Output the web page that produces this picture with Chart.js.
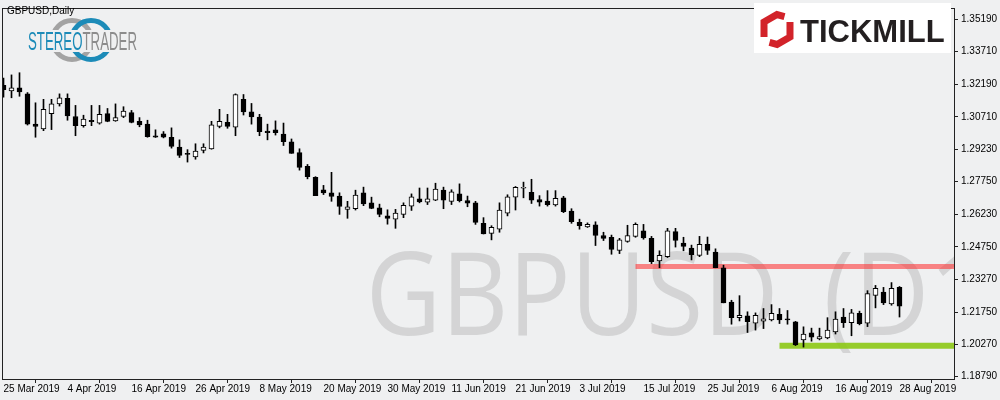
<!DOCTYPE html>
<html>
  <head>
    <title>GBPUSD Daily</title>
    <script src="https://cdn.jsdelivr.net/npm/chart.js"></script>
    <style>
      body { margin: 0; background: #eff0f1; }
      canvas { display: block; }
    </style>
  </head>
  <body>
    <canvas id="candles" width="1000" height="400"></canvas>
    <script>
      // daily bars, 25 Mar 2019 .. 28 Aug 2019 (one value per bar)
      var opens = [
        1.3216, 1.3191, 1.3205, 1.3177, 1.3038, 1.3016, 1.3086, 1.3131, 1.3156, 1.3073,
        1.3031, 1.3056, 1.3042, 1.3086, 1.3053, 1.3073, 1.3091, 1.3051, 1.3038, 1.2984,
        1.2994, 1.2978, 1.2933, 1.2900, 1.2888, 1.2918, 1.2924, 1.3028, 1.3046, 1.3024,
        1.3152, 1.3095, 1.3070, 1.3006, 1.3012, 1.2993, 1.2957, 1.2907, 1.2844, 1.2794,
        1.2737, 1.2723, 1.2708, 1.2647, 1.2650, 1.2723, 1.2677, 1.2654, 1.2617, 1.2602,
        1.2624, 1.2662, 1.2695, 1.2680, 1.2689, 1.2736, 1.2684, 1.2718, 1.2687, 1.2677,
        1.2583, 1.2537, 1.2556, 1.2629, 1.2703, 1.2744, 1.2725, 1.2692, 1.2685, 1.2667,
        1.2700, 1.2639, 1.2587, 1.2567, 1.2576, 1.2527, 1.2519, 1.2459, 1.2500, 1.2523,
        1.2549, 1.2514, 1.2410, 1.2430, 1.2545, 1.2492, 1.2469, 1.2436, 1.2486, 1.2451,
        1.2379, 1.2221, 1.2150, 1.2158, 1.2125, 1.2134, 1.2140, 1.2165, 1.2141, 1.2131,
        1.2048, 1.2080, 1.2053, 1.2057, 1.2085, 1.2153, 1.2127, 1.2170, 1.2125, 1.2252,
        1.2267, 1.2213, 1.2289
      ];
      var highs = [
        1.3249, 1.3264, 1.3274, 1.3183, 1.3136, 1.3152, 1.3152, 1.3177, 1.3177, 1.3124,
        1.3079, 1.3124, 1.3124, 1.3110, 1.3131, 1.3118, 1.3101, 1.3068, 1.3056, 1.3012,
        1.3004, 1.3021, 1.2966, 1.2921, 1.2948, 1.2948, 1.3051, 1.3106, 1.3083, 1.3177,
        1.3174, 1.3133, 1.3083, 1.3038, 1.3053, 1.3043, 1.2970, 1.2925, 1.2853, 1.2797,
        1.2757, 1.2817, 1.2723, 1.2684, 1.2735, 1.2749, 1.2703, 1.2671, 1.2645, 1.2647,
        1.2677, 1.2718, 1.2745, 1.2745, 1.2767, 1.2749, 1.2737, 1.2764, 1.2708, 1.2684,
        1.2609, 1.2572, 1.2677, 1.2714, 1.2752, 1.2772, 1.2785, 1.2710, 1.2733, 1.2733,
        1.2707, 1.2650, 1.2602, 1.2585, 1.2590, 1.2542, 1.2529, 1.2514, 1.2574, 1.2585,
        1.2578, 1.2523, 1.2457, 1.2560, 1.2560, 1.2519, 1.2483, 1.2523, 1.2520, 1.2466,
        1.2391, 1.2230, 1.2251, 1.2177, 1.2172, 1.2192, 1.2210, 1.2192, 1.2183, 1.2133,
        1.2108, 1.2102, 1.2102, 1.2150, 1.2177, 1.2192, 1.2188, 1.2180, 1.2274, 1.2298,
        1.2289, 1.2311, 1.2293
      ];
      var lows = [
        1.3162, 1.3159, 1.3166, 1.3034, 1.2978, 1.3008, 1.3013, 1.3121, 1.3056, 1.2985,
        1.3024, 1.3031, 1.3038, 1.3049, 1.3051, 1.3068, 1.3044, 1.3026, 1.2978, 1.2977,
        1.2975, 1.2928, 1.2885, 1.2864, 1.2877, 1.2906, 1.2923, 1.3021, 1.3019, 1.2985,
        1.3080, 1.3038, 1.2985, 1.2966, 1.2988, 1.2940, 1.2904, 1.2827, 1.2787, 1.2710,
        1.2715, 1.2684, 1.2624, 1.2606, 1.2644, 1.2664, 1.2650, 1.2613, 1.2579, 1.2560,
        1.2609, 1.2642, 1.2677, 1.2669, 1.2687, 1.2650, 1.2669, 1.2681, 1.2659, 1.2578,
        1.2534, 1.2507, 1.2542, 1.2617, 1.2644, 1.2700, 1.2674, 1.2662, 1.2662, 1.2662,
        1.2632, 1.2583, 1.2556, 1.2564, 1.2481, 1.2504, 1.2441, 1.2444, 1.2496, 1.2519,
        1.2510, 1.2398, 1.2379, 1.2426, 1.2474, 1.2457, 1.2415, 1.2430, 1.2440, 1.2379,
        1.2218, 1.2120, 1.2135, 1.2082, 1.2093, 1.2100, 1.2135, 1.2123, 1.2120, 1.2022,
        1.2015, 1.2042, 1.2048, 1.2053, 1.2075, 1.2105, 1.2067, 1.2117, 1.2109, 1.2195,
        1.2210, 1.2207, 1.2153
      ];
      var closes = [
        1.3196, 1.3205, 1.3186, 1.3038, 1.3028, 1.3106, 1.3131, 1.3159, 1.3076, 1.3031,
        1.3061, 1.3049, 1.3083, 1.3051, 1.3068, 1.3098, 1.3046, 1.3034, 1.2980, 1.2978,
        1.2978, 1.2936, 1.2895, 1.2899, 1.2915, 1.2933, 1.3035, 1.3051, 1.3028, 1.3174,
        1.3094, 1.3071, 1.3004, 1.2999, 1.2999, 1.2958, 1.2904, 1.2840, 1.2797, 1.2710,
        1.2723, 1.2706, 1.2660, 1.2659, 1.2712, 1.2672, 1.2651, 1.2624, 1.2605, 1.2630,
        1.2666, 1.2705, 1.2681, 1.2695, 1.2740, 1.2689, 1.2727, 1.2687, 1.2675, 1.2587,
        1.2534, 1.2564, 1.2644, 1.2704, 1.2748, 1.2745, 1.2689, 1.2680, 1.2668, 1.2698,
        1.2636, 1.2591, 1.2572, 1.2578, 1.2527, 1.2514, 1.2463, 1.2507, 1.2527, 1.2578,
        1.2516, 1.2407, 1.2436, 1.2549, 1.2504, 1.2477, 1.2439, 1.2486, 1.2459, 1.2380,
        1.2218, 1.2150, 1.2161, 1.2132, 1.2161, 1.2145, 1.2170, 1.2140, 1.2140, 1.2025,
        1.2075, 1.2060, 1.2063, 1.2093, 1.2143, 1.2127, 1.2172, 1.2123, 1.2260, 1.2285,
        1.2218, 1.2285, 1.2203
      ];

      // one date label every 8 bars
      var dateTicks = [
        "25 Mar 2019", "4 Apr 2019", "16 Apr 2019", "26 Apr 2019", "8 May 2019",
        "20 May 2019", "30 May 2019", "11 Jun 2019", "21 Jun 2019", "3 Jul 2019",
        "15 Jul 2019", "25 Jul 2019", "6 Aug 2019", "16 Aug 2019", "28 Aug 2019"
      ];
      var priceTicks = [
        1.3519, 1.3371, 1.3219, 1.3071, 1.2923, 1.2775,
        1.2623, 1.2475, 1.2327, 1.2175, 1.2027, 1.1879
      ];

      // horizontal levels: [first bar, price]
      var resistanceLevel = [79, 1.2385];
      var supportLevel = [97, 1.2021];

      var xMin = -0.0625, xMax = 118.8125;
      var yMin = 1.18686, yMax = 1.35664;
      var bg = "#eff0f1";

      var bodies = opens.map(function (o, i) {
        return { x: i, y: [o, closes[i]] };
      });
      var wicks = lows.map(function (l, i) {
        return { x: i, y: [l, highs[i]] };
      });
      var bodyColors = opens.map(function (o, i) {
        return closes[i] >= o ? "#ffffff" : "#000000";
      });

      var decorPlugin = {
        id: "decor",
        beforeDatasetsDraw: function (chart) {
          // big symbol watermark behind the bars
          var ctx = chart.ctx, a = chart.chartArea;
          ctx.save();
          ctx.beginPath();
          ctx.rect(a.left, a.top, a.right - a.left, a.bottom - a.top);
          ctx.clip();
          ctx.font = "500 116px 'Open Sans'";
          ctx.fillStyle = "rgba(150,150,150,0.3)";
          ctx.textBaseline = "alphabetic";
          var m1 = ctx.measureText("GBPUSD");
          var sx = 401 / (m1.actualBoundingBoxLeft + m1.actualBoundingBoxRight);
          ctx.save();
          ctx.translate(372 + m1.actualBoundingBoxLeft * sx, 335);
          ctx.scale(sx, 1);
          ctx.fillText("GBPUSD", 0, 0);
          ctx.restore();
          var m2 = ctx.measureText("(D1)");
          ctx.translate(827 + m2.actualBoundingBoxLeft * sx, 335);
          ctx.scale(sx, 1);
          ctx.fillText("(D1)", 0, 0);
          ctx.restore();
        },
        afterDraw: function (chart) {
          var ctx = chart.ctx, a = chart.chartArea;
          ctx.save();
          // frame
          ctx.strokeStyle = "#222";
          ctx.lineWidth = 1;
          ctx.strokeRect(a.left - 0.5, a.top - 0.5, a.right - a.left + 1, a.bottom - a.top + 1);

          ctx.fillStyle = "#000000";
          ctx.font = "10px 'Liberation Sans'";
          ctx.textBaseline = "middle";
          ctx.fillText("GBPUSD,Daily", 7, 11);

          // stereotrader logo
          ctx.lineWidth = 5;
          ctx.strokeStyle = "#a3a3a3";
          ctx.beginPath();
          ctx.arc(72, 40, 19.5, 0, Math.PI * 2);
          ctx.stroke();
          ctx.strokeStyle = "#1c8bb8";
          ctx.beginPath();
          ctx.arc(91, 40, 19.5, 0, Math.PI * 2);
          ctx.stroke();
          ctx.fillStyle = bg;
          ctx.fillRect(26, 30, 114, 22);
          ctx.font = "25px 'Liberation Sans'";
          ctx.textBaseline = "alphabetic";
          var w1 = ctx.measureText("STEREO").width;
          var w2 = ctx.measureText("TRADER").width;
          var k = 109 / (w1 + w2);
          ctx.save();
          ctx.translate(28, 50);
          ctx.scale(k, 1);
          ctx.fillStyle = "#1c8bb8";
          ctx.fillText("STEREO", 0, 0);
          ctx.fillStyle = "#8c8c8c";
          ctx.fillText("TRADER", w1, 0);
          ctx.restore();

          // tickmill logo
          ctx.fillStyle = "#ffffff";
          ctx.fillRect(754, 3, 197, 50);
          var cx = 777, cy = 29.5, r = 15;
          function v(deg) {
            var t = (deg * Math.PI) / 180;
            return [cx + r * Math.cos(t), cy + r * Math.sin(t)];
          }
          ctx.strokeStyle = "#d2232a";
          ctx.lineWidth = 7;
          ctx.lineJoin = "miter";
          var p;
          ctx.beginPath();
          p = v(-60); ctx.moveTo(p[0], p[1]);
          p = v(-90); ctx.lineTo(p[0], p[1]);
          p = v(-150); ctx.lineTo(p[0], p[1]);
          p = v(150); ctx.lineTo(p[0], p[1]);
          ctx.stroke();
          ctx.beginPath();
          p = v(120); ctx.moveTo(p[0], p[1]);
          p = v(90); ctx.lineTo(p[0], p[1]);
          p = v(30); ctx.lineTo(p[0], p[1]);
          p = v(-30); ctx.lineTo(p[0], p[1]);
          ctx.stroke();
          ctx.fillStyle = "#231f20";
          ctx.font = "bold 31px 'Liberation Sans'";
          ctx.fillText("TICKMILL", 800, 41.5);
          ctx.restore();
        }
      };

      var ctx = document.getElementById("candles").getContext("2d");
      Chart.defaults.font.family = "'Liberation Sans', sans-serif";
      Chart.defaults.font.size = 10;
      Chart.defaults.color = "#000000";

      var myChart = new Chart(ctx, {
        type: "bar",
        data: {
          datasets: [
            {
              type: "line",
              data: [
                { x: resistanceLevel[0], y: resistanceLevel[1] },
                { x: xMax, y: resistanceLevel[1] }
              ],
              borderColor: "rgba(255,40,40,0.55)",
              borderWidth: 5,
              borderCapStyle: "butt",
              pointRadius: 0,
              order: 4
            },
            {
              type: "line",
              data: [
                { x: supportLevel[0], y: supportLevel[1] },
                { x: xMax, y: supportLevel[1] }
              ],
              borderColor: "rgba(140,200,20,0.9)",
              borderWidth: 6,
              borderCapStyle: "butt",
              pointRadius: 0,
              order: 3
            },
            {
              data: wicks,
              backgroundColor: "#000000",
              barThickness: 1,
              grouped: false,
              order: 2
            },
            {
              data: bodies,
              backgroundColor: bodyColors,
              borderColor: "#000000",
              borderWidth: 1,
              borderSkipped: false,
              barThickness: 5,
              minBarLength: 1,
              grouped: false,
              order: 1
            }
          ]
        },
        options: {
          responsive: false,
          animation: false,
          layout: { padding: { left: 3, top: 3, right: 0, bottom: 0 } },
          plugins: {
            legend: { display: false },
            tooltip: { enabled: false }
          },
          scales: {
            x: {
              type: "linear",
              min: xMin,
              max: xMax,
              offset: false,
              grid: { drawOnChartArea: false, tickLength: 4, color: "#222" },
              border: { color: "#222" },
              afterBuildTicks: function (axis) {
                axis.ticks = dateTicks.map(function (_, k) {
                  return { value: k * 8 };
                });
              },
              afterFit: function (axis) {
                axis.height = 21;
              },
              ticks: {
                align: "start",
                padding: 0,
                maxRotation: 0,
                autoSkip: false,
                callback: function (v) {
                  return dateTicks[Math.round(v / 8)];
                }
              }
            },
            y: {
              position: "right",
              min: yMin,
              max: yMax,
              grid: { drawOnChartArea: false, tickLength: 4, color: "#222" },
              border: { color: "#222" },
              afterBuildTicks: function (axis) {
                axis.ticks = priceTicks.map(function (v) {
                  return { value: v };
                });
              },
              afterFit: function (axis) {
                axis.width = 46;
              },
              ticks: {
                padding: 3,
                autoSkip: false,
                callback: function (v) {
                  return v.toFixed(5);
                }
              }
            }
          }
        },
        plugins: [decorPlugin]
      });
    </script>
  </body>
</html>
